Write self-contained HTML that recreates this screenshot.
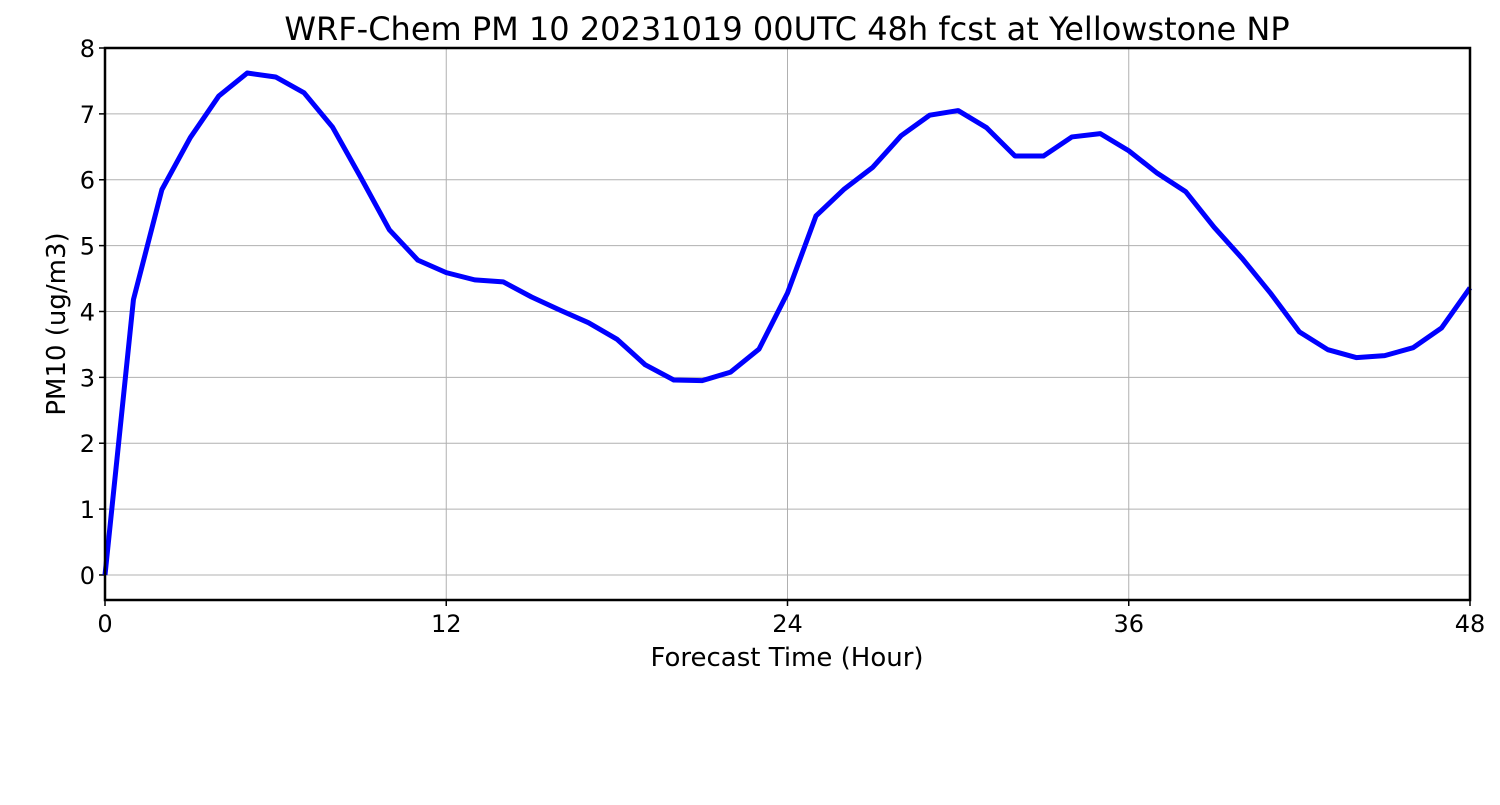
<!DOCTYPE html>
<html><head><meta charset="utf-8"><style>
body{margin:0;background:#fff;width:1500px;height:800px;overflow:hidden}
svg text{font-family:"DejaVu Sans","Liberation Sans",sans-serif;fill:#000}
</style></head><body>
<svg id="chart" width="1500" height="800" xmlns="http://www.w3.org/2000/svg">
<text x="787" y="40" font-size="32" text-anchor="middle">WRF-Chem PM 10  20231019 00UTC 48h fcst at Yellowstone NP</text>
<g id="grid"></g>
<g id="ticks"></g>
<path id="line" fill="none" stroke="#0000ff" stroke-width="5" stroke-linejoin="round"/>
<rect x="105" y="48" width="1365" height="552" fill="none" stroke="#000" stroke-width="2.5"/>
<text x="787" y="666" font-size="26" text-anchor="middle">Forecast Time (Hour)</text>
<text transform="translate(65,324) rotate(-90)" font-size="26" text-anchor="middle">PM10  (ug/m3)</text>
</svg>
<script>
const hours=[...Array(49).keys()];
const pm10=[0,4.18,5.85,6.64,7.27,7.62,7.56,7.32,6.80,6.03,5.24,4.78,4.59,4.48,4.45,4.22,4.02,3.83,3.58,3.19,2.96,2.95,3.08,3.43,4.28,5.45,5.86,6.19,6.67,6.98,7.05,6.79,6.36,6.36,6.65,6.70,6.44,6.10,5.82,5.28,4.80,4.27,3.69,3.42,3.30,3.33,3.45,3.75,4.36];
const xTicks=[0,12,24,36,48];
const yTicks=[0,1,2,3,4,5,6,7,8];
const X0=105,X1=1470,xMax=48;
const yMin=-0.38,yMax=8,YT=48,YB=600;
const x=h=>X0+(X1-X0)*h/xMax;
const y=v=>YB-(YB-YT)*(v-yMin)/(yMax-yMin);
const NS="http://www.w3.org/2000/svg";
const grid=document.getElementById('grid'),ticks=document.getElementById('ticks');
function mk(tag,attrs,parent){const e=document.createElementNS(NS,tag);for(const k in attrs)e.setAttribute(k,attrs[k]);parent.appendChild(e);return e;}
xTicks.forEach(t=>{
  const g=mk('line',{x1:x(t),x2:x(t),y1:YT,y2:YB,stroke:'#b0b0b0','stroke-width':1},grid);
  
  
  const tk=mk('line',{x1:x(t),x2:x(t),y1:YB,y2:YB+6,stroke:'#000','stroke-width':1.5},ticks);
  
  
  const tx=mk('text',{x:x(t),y:YB+32,'font-size':24,'text-anchor':'middle'},ticks);
  tx.textContent=t;
  
  
});
yTicks.forEach(t=>{
  const g=mk('line',{x1:X0,x2:X1,y1:y(t),y2:y(t),stroke:'#b0b0b0','stroke-width':1},grid);
  
  
  const tk=mk('line',{x1:X0-6,x2:X0,y1:y(t),y2:y(t),stroke:'#000','stroke-width':1.5},ticks);
  
  
  const tx=mk('text',{x:X0-10,y:y(t)+9,'font-size':24,'text-anchor':'end'},ticks);
  tx.textContent=t;
  
  
});
document.getElementById('line').setAttribute('d',hours.map((h,i)=>(i?'L':'M')+x(h)+','+y(pm10[i])).join(''));
</script>
</body></html>
